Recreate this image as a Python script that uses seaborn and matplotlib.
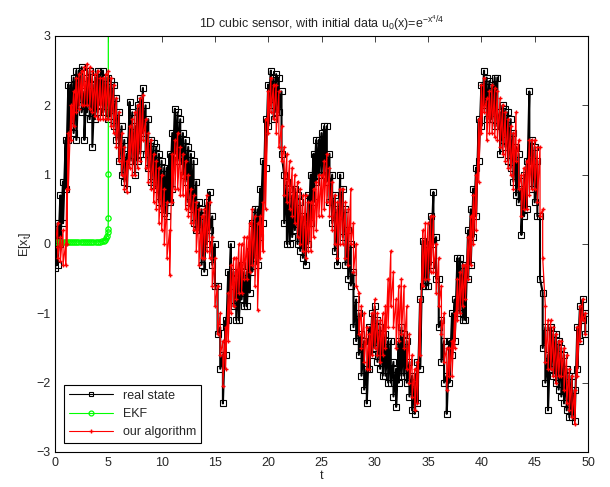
import numpy as np
import pandas as pd
import seaborn as sns
import matplotlib
matplotlib.use('Agg')
import matplotlib.pyplot as plt

# real state: (t, upper, lower) of the noisy band
real_env = [
    (0.00, -0.10, -0.35), (0.25, 0.30, -0.30), (0.50, 0.70, 0.00), (0.75, 0.90, 0.30),
    (1.00, 1.50, 0.80), (1.25, 2.30, 1.50), (1.50, 2.30, 1.70), (1.75, 2.40, 1.60),
    (2.00, 2.50, 1.50), (2.25, 2.50, 2.00), (2.50, 2.55, 1.90), (2.75, 2.20, 1.50),
    (3.00, 2.40, 1.90), (3.25, 2.50, 1.80), (3.50, 2.30, 1.40), (3.75, 2.40, 1.80),
    (4.00, 2.50, 1.90), (4.25, 2.45, 2.00), (4.50, 2.50, 1.90), (4.75, 2.40, 1.90),
    (5.00, 2.40, 1.80), (5.25, 2.35, 1.85), (5.50, 2.30, 1.70), (5.75, 2.10, 1.50),
    (6.00, 1.90, 1.20), (6.25, 1.70, 1.00), (6.50, 1.50, 0.90), (6.75, 1.30, 0.80),
    (7.00, 2.05, 1.20), (7.25, 1.90, 1.20), (7.50, 1.70, 1.00), (7.75, 2.00, 1.20),
    (8.00, 2.10, 1.30), (8.25, 2.25, 1.60), (8.50, 2.00, 1.30), (8.75, 1.80, 1.10),
    (9.00, 1.50, 0.90), (9.25, 1.45, 0.85), (9.50, 1.40, 0.80), (9.75, 1.30, 0.60),
    (10.00, 1.20, 0.50), (10.25, 1.10, 0.45), (10.50, 1.10, 0.40), (10.75, 1.30, 0.60),
    (11.00, 1.60, 0.80), (11.25, 1.95, 1.30), (11.50, 1.90, 1.20), (11.75, 1.80, 1.20),
    (12.00, 1.60, 1.00), (12.25, 1.50, 0.90), (12.50, 1.40, 0.60), (12.75, 1.30, 0.50),
    (13.00, 1.20, 0.30), (13.25, 0.90, 0.20), (13.50, 0.60, 0.20), (13.75, 0.50, -0.30),
    (14.00, 0.40, -0.40), (14.25, 0.60, 0.00), (14.50, 0.75, 0.20), (14.75, 0.40, -0.30),
    (15.00, 0.00, -0.60), (15.25, -0.60, -1.30), (15.50, -1.20, -1.80), (15.75, -1.60, -2.30),
    (16.00, -1.10, -1.60), (16.25, -0.40, -1.10), (16.50, 0.00, -0.60), (16.75, -0.40, -0.90),
    (17.00, -0.50, -1.10), (17.25, -0.40, -1.10), (17.50, -0.30, -0.80), (17.75, -0.40, -0.90),
    (18.00, -0.40, -0.90), (18.25, -0.10, -0.70), (18.50, 0.30, -0.40), (18.75, 0.50, -0.20),
    (19.00, 0.50, -0.30), (19.25, 0.80, 0.10), (19.50, 1.20, 0.30), (19.75, 1.80, 1.10),
    (20.00, 2.30, 1.70), (20.25, 2.50, 2.00), (20.50, 2.40, 1.80), (20.75, 2.45, 1.90),
    (21.00, 2.40, 1.90), (21.25, 2.20, 1.30), (21.50, 1.00, 0.30), (21.75, 0.90, 0.00),
    (22.00, 0.80, 0.00), (22.25, 0.70, 0.10), (22.50, 0.80, 0.20), (22.75, 0.70, 0.00),
    (23.00, 0.60, -0.10), (23.25, 0.40, -0.20), (23.50, 0.30, -0.30), (23.75, 0.70, 0.00),
    (24.00, 1.00, 0.30), (24.25, 1.30, 0.60), (24.50, 1.50, 0.90), (24.75, 1.50, 1.00),
    (25.00, 1.60, 1.00), (25.25, 1.70, 1.00), (25.50, 1.70, 0.90), (25.75, 1.30, 0.60),
    (26.00, 1.00, 0.30), (26.25, 0.70, -0.10), (26.50, 0.50, -0.30), (26.75, 1.00, 0.40),
    (27.00, 0.80, 0.10), (27.25, 0.50, -0.30), (27.50, 0.20, -0.50), (27.75, 0.00, -0.60),
    (28.00, -0.40, -1.20), (28.25, -0.80, -1.40), (28.50, -1.00, -1.60), (28.75, -1.30, -1.90),
    (29.00, -1.40, -2.10), (29.25, -1.80, -2.30), (29.50, -1.20, -1.80), (29.75, -1.00, -1.60),
    (30.00, -0.90, -1.50), (30.25, -1.10, -1.70), (30.50, -1.20, -1.80), (30.75, -1.30, -1.90),
    (31.00, -1.30, -1.90), (31.25, -1.40, -2.00), (31.50, -1.40, -2.00), (31.75, -1.70, -2.20),
    (32.00, -1.80, -2.35), (32.25, -1.40, -2.00), (32.50, -1.20, -1.90), (32.75, -1.30, -1.90),
    (33.00, -1.40, -2.00), (33.25, -1.70, -2.20), (33.50, -1.90, -2.40), (33.75, -2.00, -2.45),
    (34.00, -1.70, -2.30), (34.25, -0.80, -1.80), (34.50, 0.05, -0.60), (34.75, 0.00, -0.60),
    (35.00, 0.00, -0.60), (35.25, 0.40, -0.30), (35.50, 0.75, 0.00), (35.75, 0.10, -0.50),
    (36.00, -0.50, -1.20), (36.25, -1.10, -1.70), (36.50, -1.40, -2.00), (36.75, -1.90, -2.45),
    (37.00, -1.40, -2.00), (37.25, -1.00, -1.60), (37.50, -0.80, -1.40), (37.75, -0.20, -1.00),
    (38.00, -0.20, -1.00), (38.25, -0.30, -1.10), (38.50, -0.30, -1.10), (38.75, 0.20, -0.50),
    (39.00, 0.50, -0.30), (39.25, 0.80, 0.10), (39.50, 1.10, 0.40), (39.75, 1.80, 1.20),
    (40.00, 2.30, 1.70), (40.25, 2.50, 2.00), (40.50, 2.40, 1.80), (40.75, 2.35, 1.80),
    (41.00, 2.30, 1.80), (41.25, 2.40, 1.70), (41.50, 2.40, 1.70), (41.75, 1.90, 1.30),
    (42.00, 2.00, 1.50), (42.25, 1.95, 1.40), (42.50, 1.90, 1.20), (42.75, 1.80, 1.10),
    (43.00, 1.60, 0.90), (43.25, 1.40, 0.70), (43.50, 1.30, 0.60), (43.75, 0.80, 0.13),
    (44.00, 1.00, 0.40), (44.25, 1.20, 0.50), (44.50, 2.20, 1.20), (44.75, 1.50, 0.80),
    (45.00, 1.40, 0.60), (45.25, 1.20, 0.40), (45.50, 0.40, -0.50), (45.75, -0.70, -1.50),
    (46.00, -1.20, -2.00), (46.25, -1.60, -2.40), (46.50, -1.20, -1.80), (46.75, -1.30, -1.90),
    (47.00, -1.30, -2.00), (47.25, -1.40, -2.10), (47.50, -1.50, -2.20), (47.75, -1.60, -2.30),
    (48.00, -1.80, -2.40), (48.25, -1.90, -2.50), (48.50, -1.90, -2.50), (48.75, -2.10, -2.55),
    (49.00, -1.20, -1.80), (49.25, -0.90, -1.40), (49.50, -0.80, -1.10), (49.75, -1.00, -1.30),
]

# our algorithm: (t, upper, lower)
ours_env = [
    (0.00, 0.15, -0.05), (0.25, 0.30, -0.20), (0.50, 0.10, -0.25), (0.75, 0.20, -0.30),
    (1.00, 0.00, -0.30), (1.10, 0.80, 0.00), (1.25, 1.60, 0.80), (1.50, 2.00, 1.50),
    (1.75, 2.20, 1.70), (2.00, 2.40, 1.90), (2.25, 2.45, 1.95), (2.50, 2.50, 2.00),
    (2.75, 2.55, 2.00), (3.00, 2.60, 2.00), (3.25, 2.55, 1.95), (3.50, 2.50, 1.90),
    (3.75, 2.45, 1.85), (4.00, 2.50, 1.80), (4.25, 2.40, 1.80), (4.50, 2.40, 1.80),
    (4.75, 2.45, 1.80), (5.00, 2.50, 1.80), (5.25, 2.40, 1.70), (5.50, 2.30, 1.60),
    (5.75, 2.10, 1.40), (6.00, 1.90, 1.20), (6.25, 1.60, 1.00), (6.50, 1.40, 0.80),
    (6.75, 1.20, 0.75), (7.00, 1.70, 1.10), (7.25, 1.80, 1.00), (7.50, 1.90, 1.00),
    (7.75, 2.00, 1.10), (8.00, 2.10, 1.20), (8.25, 2.15, 1.50), (8.50, 1.80, 1.10),
    (8.75, 1.60, 0.90), (9.00, 1.50, 0.80), (9.25, 1.30, 0.60), (9.50, 1.20, 0.50),
    (9.75, 1.10, 0.30), (10.00, 1.00, 0.20), (10.25, 0.80, 0.00), (10.50, 0.60, -0.20),
    (10.75, 0.20, -0.45), (11.00, 1.30, 0.60), (11.25, 1.50, 0.80), (11.50, 1.60, 0.80),
    (11.75, 1.40, 0.70), (12.00, 1.30, 0.70), (12.25, 1.20, 0.50), (12.50, 1.00, 0.40),
    (12.75, 0.80, 0.30), (13.00, 0.70, 0.20), (13.25, 0.60, -0.10), (13.50, 0.50, -0.30),
    (13.75, 0.40, -0.20), (14.00, 0.50, -0.20), (14.25, 0.70, -0.10), (14.50, 0.60, -0.20),
    (14.75, 0.10, -0.60), (15.00, -0.20, -0.90), (15.25, -0.60, -1.30), (15.50, -1.00, -1.60),
    (15.75, -1.40, -2.05), (16.00, -1.20, -1.80), (16.25, -0.70, -1.40), (16.50, -0.30, -1.00),
    (16.75, -0.20, -0.90), (17.00, -0.20, -0.80), (17.25, 0.00, -0.70), (17.50, 0.00, -0.70),
    (17.75, 0.10, -0.50), (18.00, 0.10, -0.50), (18.25, 0.30, -0.40), (18.50, 0.50, -0.30),
    (18.75, 0.40, -0.60), (19.00, 0.30, -0.95), (19.25, 0.40, -0.20), (19.50, 0.60, -0.10),
    (19.75, 1.80, 0.50), (20.00, 2.20, 1.60), (20.25, 2.40, 1.90), (20.50, 2.30, 1.80),
    (20.75, 2.30, 1.60), (21.00, 2.20, 1.40), (21.25, 1.70, 1.20), (21.50, 1.40, 0.70),
    (21.75, 1.30, 0.60), (22.00, 1.20, 0.50), (22.25, 1.10, 0.40), (22.50, 1.00, 0.30),
    (22.75, 0.90, 0.10), (23.00, 0.80, 0.00), (23.25, 0.70, -0.10), (23.50, 0.70, -0.20),
    (23.75, 0.60, -0.10), (24.00, 0.60, -0.10), (24.25, 0.80, 0.10), (24.50, 0.90, 0.20),
    (24.75, 1.00, 0.40), (25.00, 1.00, 0.40), (25.25, 1.20, 0.50), (25.50, 1.30, 0.60),
    (25.75, 1.10, 0.40), (26.00, 0.90, 0.20), (26.25, 0.70, 0.00), (26.50, 0.60, -0.20),
    (26.75, 0.80, 0.00), (27.00, 0.80, 0.00), (27.25, 0.60, -0.20), (27.50, 0.50, -0.30),
    (27.75, 0.80, 0.00), (28.00, 0.30, -0.40), (28.25, 0.00, -0.60), (28.50, -0.70, -1.30),
    (28.75, -0.90, -1.50), (29.00, -1.00, -1.70), (29.25, -1.20, -1.80), (29.50, -1.30, -1.80),
    (29.75, -1.00, -1.60), (30.00, -0.80, -1.50), (30.25, -1.00, -1.60), (30.50, -1.10, -1.70),
    (30.75, -1.00, -1.60), (31.00, -0.90, -1.50), (31.25, -0.50, -1.20), (31.50, -0.10, -0.90),
    (31.75, -0.40, -1.20), (32.00, -0.80, -1.50), (32.25, -0.60, -1.40), (32.50, -0.50, -1.30),
    (32.75, -0.60, -1.50), (33.00, -0.90, -1.80), (33.25, -1.30, -2.00), (33.50, -1.60, -2.20),
    (33.75, -1.80, -2.40), (34.00, -1.70, -2.30), (34.25, -0.80, -1.60), (34.50, 0.20, -0.60),
    (34.75, 0.30, -0.50), (35.00, 0.30, -0.50), (35.25, 0.40, -0.40), (35.50, 0.40, -0.40),
    (35.75, 0.00, -0.70), (36.00, -0.20, -0.90), (36.25, -0.60, -1.30), (36.50, -1.00, -1.70),
    (36.75, -1.50, -2.10), (37.00, -1.50, -1.90), (37.25, -1.40, -1.90), (37.50, -1.00, -1.50),
    (37.75, -0.50, -1.10), (38.00, -0.40, -1.00), (38.25, -0.30, -0.90), (38.50, -0.30, -0.80),
    (38.75, 0.10, -0.50), (39.00, 0.40, -0.30), (39.25, 0.70, 0.00), (39.50, 1.00, 0.20),
    (39.75, 1.80, 0.90), (40.00, 2.30, 1.60), (40.25, 2.40, 1.90), (40.50, 2.10, 1.50),
    (40.75, 2.20, 1.60), (41.00, 2.30, 1.60), (41.25, 2.25, 1.55), (41.50, 2.20, 1.50),
    (41.75, 2.10, 1.40), (42.00, 2.00, 1.30), (42.25, 1.90, 1.20), (42.50, 1.80, 1.10),
    (42.75, 1.70, 1.00), (43.00, 1.60, 0.80), (43.25, 1.90, 1.20), (43.50, 1.50, 0.80),
    (43.75, 1.00, 0.40), (44.00, 1.10, 0.50), (44.25, 1.20, 0.50), (44.50, 1.50, 0.70),
    (44.75, 1.50, 0.80), (45.00, 1.50, 0.80), (45.25, 1.40, 0.60), (45.50, 1.40, 0.40),
    (45.75, 0.50, -0.20), (46.00, -0.90, -1.70), (46.25, -1.10, -1.80), (46.50, -1.10, -1.80),
    (46.75, -1.20, -1.90), (47.00, -1.30, -2.00), (47.25, -1.40, -1.90), (47.50, -1.40, -1.90),
    (47.75, -1.50, -2.10), (48.00, -1.60, -2.30), (48.25, -1.80, -2.40), (48.50, -1.90, -2.50),
    (48.75, -2.10, -2.60), (49.00, -1.20, -1.90), (49.25, -0.90, -1.40), (49.50, -0.80, -1.10),
    (49.75, -1.00, -1.30),
]

# EKF estimate: flat near zero, then blows up at t~5
ekf_t = [0.0, 0.2, 0.4, 0.6, 0.8, 1.0, 1.2, 1.4, 1.6, 1.8, 2.0, 2.2, 2.4, 2.6, 2.8, 3.0,
         3.2, 3.4, 3.6, 3.8, 4.0, 4.2, 4.4, 4.6, 4.7, 4.8, 4.9, 4.95, 4.98, 5.0, 5.0, 5.0]
ekf_x = [0.03, 0.03, 0.03, 0.03, 0.03, 0.03, 0.03, 0.03, 0.03, 0.03, 0.03, 0.03, 0.03, 0.03,
         0.03, 0.03, 0.03, 0.03, 0.03, 0.03, 0.03, 0.035, 0.04, 0.05, 0.06, 0.08, 0.12, 0.17,
         0.22, 0.38, 1.01, 6.0]


def zigzag(env):
    t = np.array([r[0] for r in env])
    hi = np.array([r[1] for r in env])
    lo = np.array([r[2] for r in env])
    return np.repeat(t, 2), np.column_stack([hi, lo]).ravel()


sns.set_style('white')
plt.rcParams['font.family'] = ['Liberation Sans', 'DejaVu Sans']
plt.rcParams['font.size'] = 9
plt.rcParams['mathtext.default'] = 'regular'

fig = plt.figure(figsize=(6.1, 4.87), dpi=100)
ax = fig.add_axes([0.0902, 0.0719, 0.8737, 0.8542])

rt, rx = zigzag(real_env)
ot, ox = zigzag(ours_env)

sns.lineplot(x=rt, y=rx, sort=False, estimator=None, ax=ax, color='black', lw=1.5,
             marker='s', markersize=4.5, markerfacecolor='none', markeredgecolor='black',
             markeredgewidth=0.8, label='real state')
sns.lineplot(x=ekf_t, y=ekf_x, sort=False, estimator=None, ax=ax, color='#00ff00', lw=0.9,
             marker='o', markersize=3.8, markerfacecolor='none', markeredgecolor='#00ff00',
             markeredgewidth=0.9, label='EKF')
sns.lineplot(x=ot, y=ox, sort=False, estimator=None, ax=ax, color='red', lw=0.9,
             marker='+', markersize=3.2, markeredgewidth=1.0, markeredgecolor='red',
             label='our algorithm')

ax.set_xlim(0, 50)
ax.set_ylim(-3, 3)
ax.set_xticks(range(0, 51, 5))
ax.set_yticks(range(-3, 4))
ax.tick_params(direction='in', top=True, right=True, length=4, width=0.6, labelsize=9)
for s in ax.spines.values():
    s.set_color('black')
    s.set_linewidth(0.8)

ax.set_title(r'1D cubic sensor, with initial data u$_0$(x)=e$^{-x^4/4}$', fontsize=9)
ax.set_xlabel('t', labelpad=1)
ax.set_ylabel('E[x$_t$]', labelpad=2)

leg = ax.legend(loc='lower left', fancybox=False, framealpha=1, edgecolor='black',
                borderaxespad=0.7, handlelength=3.5, fontsize=9)
leg.get_frame().set_linewidth(0.8)
for h in leg.get_lines():
    h.set_linewidth(0.8)
    h.set_markersize(3.5)

fig.savefig('out.png', dpi=100)
